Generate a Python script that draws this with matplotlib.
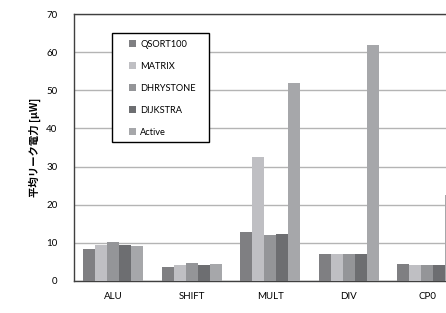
import numpy as np
import matplotlib
matplotlib.use('Agg')
import matplotlib.pyplot as plt
from matplotlib.patches import Rectangle

plt.rcParams['font.family'] = ['Lato', 'Noto Sans CJK JP', 'DejaVu Sans']

# data
categories = ['ALU', 'SHIFT', 'MULT', 'DIV', 'CP0']
series_names = ['QSORT100', 'MATRIX', 'DHRYSTONE', 'DIJKSTRA', 'Active']
qsort100 = [8.3, 3.7, 12.8, 7.1, 4.4]
matrix = [9.4, 4.3, 32.5, 7.1, 4.1]
dhrystone = [10.1, 4.6, 12.1, 7.1, 4.1]
dijkstra = [9.4, 4.3, 12.3, 7.1, 4.3]
active = [9.3, 4.5, 51.9, 61.8, 22.5]
yticks = [0, 10, 20, 30, 40, 50, 60, 70]

colors = ['#7f7f82', '#bfbfc3', '#949598', '#6d6e71', '#a6a7aa']
series = [qsort100, matrix, dhrystone, dijkstra, active]

W, H = 446, 313
fig = plt.figure(figsize=(W/100, H/100), dpi=100)
# the reference is cropped on the right, so the axes run past the figure edge
ax = fig.add_axes([74/W, 32/H, 392.5/W, 267/H])

x = np.arange(len(categories))
w = 0.153
for i, (vals, name, c) in enumerate(zip(series, series_names, colors)):
    ax.bar(x + (i - 2)*w, vals, w, color=c, label=name, zorder=3)

ax.set_xlim(-0.5, len(categories) - 0.5)
ax.set_ylim(0, 70)
ax.set_yticks(yticks)
ax.set_xticks(x)
ax.set_xticklabels(categories, fontsize=7)
ax.tick_params(axis='y', labelsize=7, length=0, pad=12)
ax.tick_params(axis='x', length=0, pad=8)
ax.yaxis.grid(True, color='#b4b4b4', linewidth=1.0, zorder=0)
for s in ['top', 'left', 'bottom']:
    ax.spines[s].set_color('#404040')
    ax.spines[s].set_linewidth(1.0)
ax.spines['right'].set_visible(False)

ax.set_ylabel('平均リーク電力 [μW]', fontsize=7.5, fontweight='bold',
              family=['Noto Sans CJK JP', 'DejaVu Sans'], labelpad=4)

# legend box drawn by hand to get the uneven padding of the reference
frame = Rectangle((112/W, 1 - 142/H), 97/W, 109/H, transform=fig.transFigure,
                  facecolor='white', edgecolor='black', linewidth=1.0,
                  zorder=5, clip_on=False)
ax.add_patch(frame)
leg = ax.legend(loc='upper left', fontsize=6.7, frameon=False,
                handlelength=0.8, handleheight=0.8, labelspacing=1.4,
                borderpad=0, handletextpad=0.4, borderaxespad=0)
leg.set_bbox_to_anchor((129/W, 1 - 40/H), transform=fig.transFigure)
leg.set_zorder(6)

fig.savefig('out.png', dpi=100)
